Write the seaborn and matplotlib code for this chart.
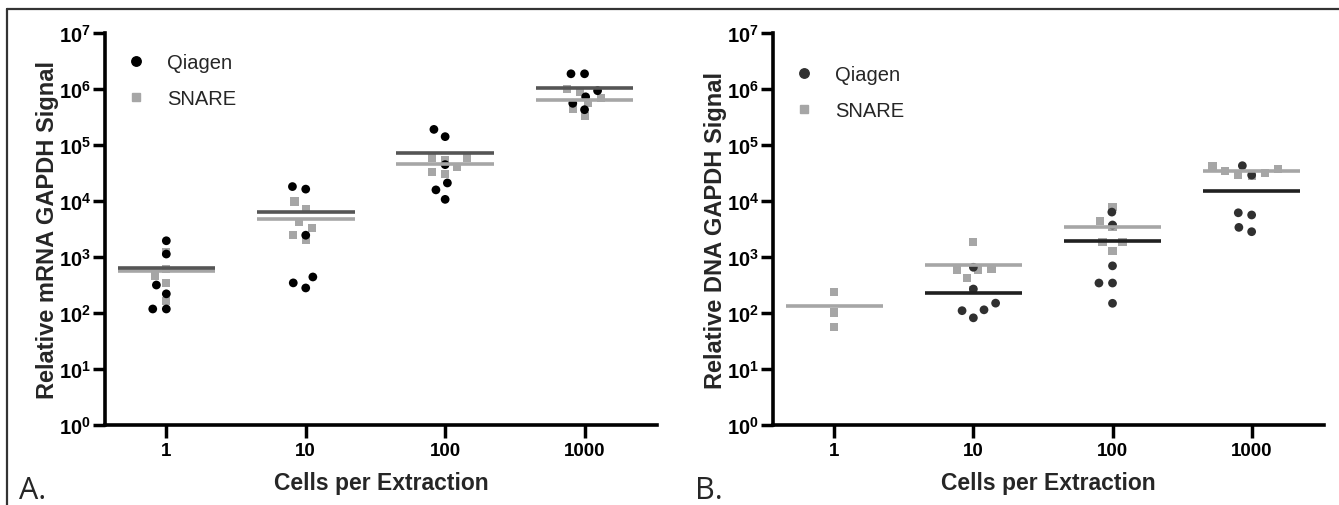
import numpy as np
import pandas as pd
import matplotlib
matplotlib.use("Agg")
import matplotlib.pyplot as plt
from matplotlib.lines import Line2D
import seaborn as sns

# ----------------------------
# DATA
# ----------------------------
cells = ["1", "10", "100", "1000"]

# Panel A - relative mRNA GAPDH signal
mrna_qiagen = {
    "1": [1950, 1130, 316, 220, 118, 118],
    "10": [16300, 18100, 2450, 440, 280, 345],
    "100": [190000, 141000, 44600, 21000, 15800, 10700],
    "1000": [1870000, 1870000, 933000, 725000, 555000, 427000],
}
mrna_snare = {
    "1": [1240, 600, 457, 345, 164],
    "10": [9800, 7200, 3250, 4150, 2500, 2000],
    "100": [57600, 53400, 40900, 33000, 30700, 57600],
    "1000": [1000000, 870000, 690000, 560000, 437000, 333000],
}

# Panel B - relative DNA GAPDH signal
dna_qiagen = {
    "1": [],
    "10": [655, 268, 150, 114, 110, 82],
    "100": [6340, 3730, 695, 343, 343, 149],
    "1000": [42700, 29000, 6160, 5630, 3380, 2830],
}
dna_snare = {
    "1": [240, 102, 57],
    "10": [1820, 590, 590, 610, 420, 260],
    "100": [7930, 4350, 3380, 1820, 1820, 1260],
    "1000": [42700, 34000, 29000, 27600, 31600, 37300],
}

methods = ["Qiagen", "SNARE"]
panel_letters = ["A.", "B."]
ylabels = ["Relative mRNA GAPDH Signal", "Relative DNA GAPDH Signal"]
xlabel = "Cells per Extraction"


def to_long(qiagen, snare):
    rows = []
    for name, d in zip(methods, [qiagen, snare]):
        for c in cells:
            for v in d[c]:
                rows.append({"cells": c, "method": name, "value": v})
    return pd.DataFrame(rows)


# ----------------------------
# STYLE
# ----------------------------
sns.set_style("ticks")
plt.rcParams["font.family"] = ["Liberation Sans", "DejaVu Sans"]
plt.rcParams["mathtext.fontset"] = "custom"
plt.rcParams["mathtext.rm"] = "Liberation Sans"
plt.rcParams["mathtext.bf"] = "Liberation Sans:bold"
plt.rcParams["mathtext.it"] = "Liberation Sans:italic"

fig = plt.figure(figsize=(13.39, 5.06), dpi=100)
ax_a = fig.add_axes([0.0784, 0.1581, 0.4123, 0.7747])
ax_b = fig.add_axes([0.5773, 0.1581, 0.4115, 0.7747])

panels = [
    (ax_a, to_long(mrna_qiagen, mrna_snare), "#000000", "#555555"),
    (ax_b, to_long(dna_qiagen, dna_snare), "#303030", "#202020"),
]
snare_color = "#a6a6a6"

for i, (ax, df, q_color, q_line) in enumerate(panels):
    ax.set_yscale("log")
    ax.set_ylim(1, 1e7)
    ax.set_xlim(-0.44, 3.52)

    q = df[df["method"] == "Qiagen"]
    s = df[df["method"] == "SNARE"]
    sns.swarmplot(data=s, x="cells", y="value", order=cells, ax=ax,
                  color=snare_color, marker="s", size=5.8,
                  edgecolor="none", linewidth=3.6, native_scale=False)
    sns.swarmplot(data=q, x="cells", y="value", order=cells, ax=ax,
                  color=q_color, marker="o", size=6.3,
                  edgecolor="none", linewidth=3.0, native_scale=False)

    # mean lines
    pos = np.arange(len(cells))
    q_mean = q.groupby("cells")["value"].mean().reindex(cells)
    s_mean = s.groupby("cells")["value"].mean().reindex(cells)
    ok = q_mean.notna().values
    ax.hlines(s_mean.values, pos - 0.35, pos + 0.35, color=snare_color,
              lw=2.6, zorder=5)
    ax.hlines(q_mean.values[ok], pos[ok] - 0.35, pos[ok] + 0.35,
              color=q_line, lw=2.6, zorder=6)

    ax.set_xlim(-0.44, 3.52)
    ax.set_ylim(1, 1e7)
    ax.set_xticks(pos)
    ax.set_xticklabels(cells, fontsize=13.5, fontweight="bold")
    ax.set_yticks([10.0 ** k for k in range(8)])
    ax.set_yticklabels([r"$\mathbf{10^{%d}}$" % k for k in range(8)],
                       fontsize=14.5)
    ax.yaxis.set_minor_locator(matplotlib.ticker.NullLocator())
    ax.tick_params(axis="both", length=9, width=2.5, color="black",
                   labelcolor="black", pad=3)
    ax.tick_params(axis="y", pad=1)
    for side in ["left", "bottom"]:
        ax.spines[side].set_linewidth(2.6)
        ax.spines[side].set_color("black")
    sns.despine(ax=ax)

    ax.set_xlabel(xlabel, fontsize=16.5, fontweight="bold", labelpad=9)
    ax.set_ylabel(ylabels[i], fontsize=17, fontweight="bold", labelpad=0)

    handles = [
        Line2D([], [], ls="none", marker="o", ms=6.8, color=q_color),
        Line2D([], [], ls="none", marker="s", ms=6.0, color=snare_color),
    ]
    ax.legend(handles, methods, frameon=False, fontsize=14.5,
              loc="upper left",
              bbox_to_anchor=(-0.006, 0.995 if i == 0 else 0.965),
              handletextpad=0.75, labelspacing=0.85, borderaxespad=0.5,
              handlelength=1.6)

    fig.text(0.014 if i == 0 else 0.519, 0.014, panel_letters[i],
             fontsize=22, family=["Open Sans", "DejaVu Sans"])

# frame lines on top and left edges of the figure
fig.add_artist(Line2D([7 / 1339, 1], [1 - 10 / 506, 1 - 10 / 506],
                      transform=fig.transFigure, color="#333333", lw=1.6))
fig.add_artist(Line2D([7 / 1339, 7 / 1339], [0, 1 - 10 / 506],
                      transform=fig.transFigure, color="#333333", lw=1.6))

fig.savefig("out.png", dpi=100)
